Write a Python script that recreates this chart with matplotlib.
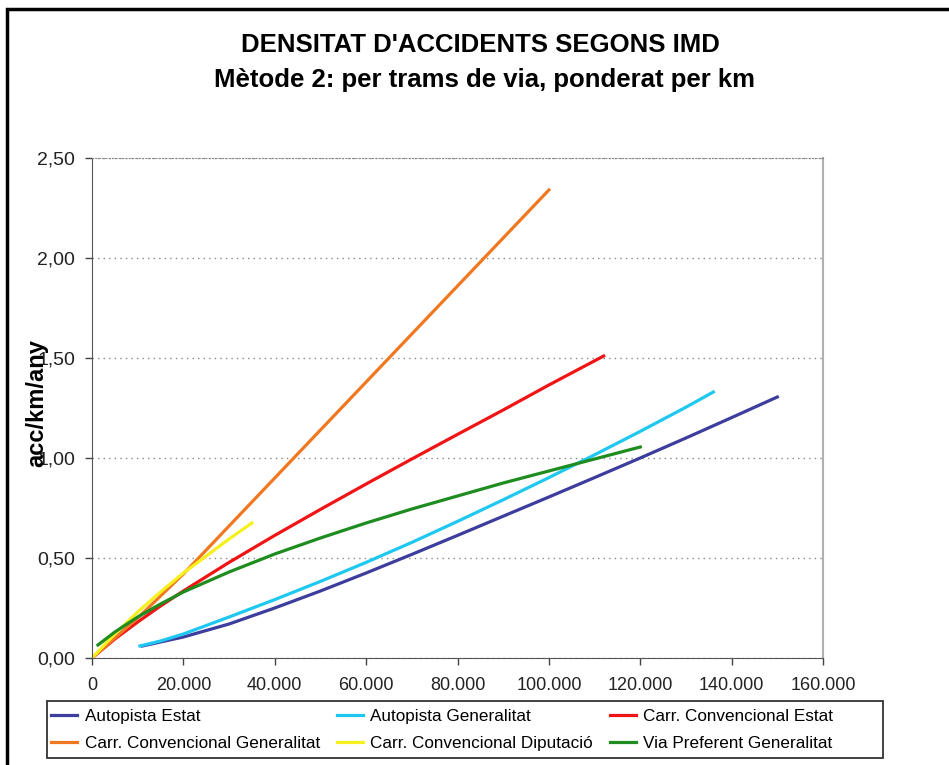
import matplotlib
matplotlib.use("Agg")
import matplotlib.pyplot as plt
from matplotlib.ticker import FuncFormatter, MultipleLocator
from matplotlib.patches import Rectangle

plt.rcParams['font.family'] = ['Liberation Sans', 'DejaVu Sans']

# series (IMD vs acc/km/any)
x_aut_estat = [11000, 15000, 20000, 30000, 40000, 50000, 60000, 70000, 80000,
               90000, 100000, 110000, 120000, 130000, 140000, 150000]
y_aut_estat = [0.06, 0.08, 0.105, 0.17, 0.25, 0.335, 0.425, 0.518, 0.613,
               0.709, 0.805, 0.902, 1.0, 1.10, 1.202, 1.305]

x_aut_gen = [10500, 15000, 20000, 30000, 40000, 50000, 60000, 70000, 80000,
             90000, 100000, 110000, 120000, 130000, 136000]
y_aut_gen = [0.06, 0.085, 0.12, 0.205, 0.292, 0.383, 0.478, 0.578, 0.683,
             0.791, 0.902, 1.016, 1.133, 1.254, 1.33]

x_conv_estat = [0, 5000, 10000, 15000, 20000, 30000, 40000, 50000, 60000,
                70000, 80000, 90000, 100000, 112000]
y_conv_estat = [0, 0.095, 0.18, 0.26, 0.335, 0.478, 0.613, 0.743, 0.87,
                0.995, 1.118, 1.24, 1.365, 1.51]

x_conv_gen = [0, 10000, 20000, 40000, 60000, 80000, 100000]
y_conv_gen = [0, 0.20, 0.42, 0.90, 1.38, 1.86, 2.34]

x_conv_dip = [0, 5000, 10000, 15000, 20000, 25000, 30000, 35000]
y_conv_dip = [0, 0.12, 0.23, 0.33, 0.425, 0.51, 0.595, 0.675]

x_via_pref = [1300, 5000, 10000, 15000, 20000, 30000, 40000, 50000, 60000,
              70000, 80000, 90000, 100000, 110000, 120000]
y_via_pref = [0.065, 0.13, 0.205, 0.27, 0.33, 0.43, 0.52, 0.60, 0.675,
              0.745, 0.81, 0.875, 0.935, 0.995, 1.055]

fig = plt.figure(figsize=(9.49, 7.65), dpi=100)
ax = fig.add_axes([92/949, 1-658/765, 731/949, 500/765])

l1, = ax.plot(x_aut_estat, y_aut_estat, color='#3d3d9e', lw=2.3, label='Autopista Estat')
l2, = ax.plot(x_aut_gen, y_aut_gen, color='#1ec8f0', lw=2.3, label='Autopista Generalitat')
l3, = ax.plot(x_conv_estat, y_conv_estat, color='#f01414', lw=2.3, label='Carr. Convencional Estat')
l4, = ax.plot(x_conv_gen, y_conv_gen, color='#f07820', lw=2.3, label='Carr. Convencional Generalitat')
l5, = ax.plot(x_conv_dip, y_conv_dip, color='#f5f01e', lw=2.3, label='Carr. Convencional Diputació')
l6, = ax.plot(x_via_pref, y_via_pref, color='#1e8c1e', lw=2.3, label='Via Preferent Generalitat')

ax.set_xlim(0, 160000)
ax.set_ylim(0, 2.5)
ax.xaxis.set_major_locator(MultipleLocator(20000))
ax.yaxis.set_major_locator(MultipleLocator(0.5))
ax.xaxis.set_major_formatter(FuncFormatter(lambda v, p: f"{int(v):,}".replace(',', '.')))
ax.yaxis.set_major_formatter(FuncFormatter(lambda v, p: f"{v:.2f}".replace('.', ',')))
ax.tick_params(axis='both', length=5, width=1, color='#444444', labelcolor='#222222')
ax.tick_params(axis='y', labelsize=14, pad=7)
ax.tick_params(axis='x', labelsize=13, pad=9)

ax.yaxis.grid(True, linestyle=(0, (1, 3)), color='#888888', lw=1)
ax.spines['left'].set_color('#555555')
ax.spines['bottom'].set_color('#555555')
ax.spines['right'].set_color('#b0b0b0')
ax.spines['right'].set_linewidth(1.5)
ax.spines['top'].set_color('#888888')
ax.spines['top'].set_linestyle((0, (1, 2)))

# the label sits over the tick labels, as in the original sheet
ax.set_ylabel('acc/km/any', fontsize=17, fontweight='bold')
ax.yaxis.set_label_coords(-0.06, 0.51)

fig.text(480/949, 1-45/765, "DENSITAT D'ACCIDENTS SEGONS IMD", ha='center', va='center',
         fontsize=18.5, fontweight='bold')
fig.text(485/949, 1-80/765, "Mètode 2: per trams de via, ponderat per km", ha='center', va='center',
         fontsize=18.5, fontweight='bold')

# legend: row-wise order for 3 columns, frame drawn separately
handles = [l1, l4, l2, l5, l3, l6]
leg = fig.legend(handles=handles, labels=[h.get_label() for h in handles], ncol=3,
                 loc='upper left', bbox_to_anchor=(48/949, 1-706/765),
                 fontsize=12.3, frameon=False, handlelength=1.5, handletextpad=0.45,
                 columnspacing=1.0, borderaxespad=0, borderpad=0.2, labelspacing=0.68)
fig.patches.append(Rectangle((47/949, 1-758/765), 836/949, 57/765, transform=fig.transFigure,
                             fill=False, edgecolor='#333333', lw=1.3))

# outer frame of the sheet
fig.patches.append(Rectangle((7/949, -0.5), 2, 1.5 - 9/765, transform=fig.transFigure,
                             fill=False, edgecolor='black', lw=2.5))

fig.savefig('out.png', dpi=100)
